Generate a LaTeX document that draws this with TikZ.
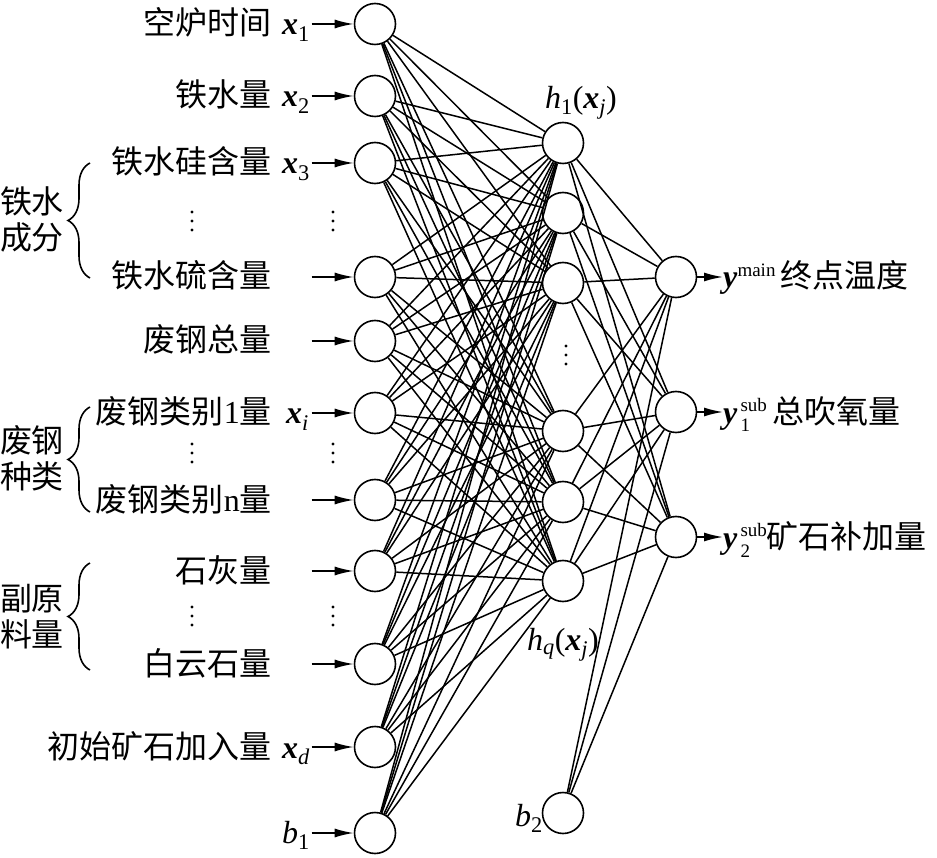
\documentclass[tikz,border=0pt]{standalone}
\usepackage{amsmath}
\usepackage{fontspec}
\setmainfont{Liberation Serif}
\newfontfamily\cjk{Noto Sans CJK SC}
\newcommand{\vx}{\text{\bfseries\itshape x}}
\newcommand{\vy}{\text{\bfseries\itshape y}}
\newcommand{\ti}[1]{\text{\itshape #1}}
\newcommand{\tu}[1]{\text{\upshape #1}}
\newcommand{\smallsz}{\fontsize{19}{19}\selectfont}
\newcommand{\ysub}[1]{\textbf{\textit{y}}\kern3pt\rlap{\raisebox{12pt}{\smallsz sub}}\rlap{\raisebox{-9pt}{\smallsz #1}}\phantom{\smallsz sub}}
\usepackage{tikz}
\usetikzlibrary{arrows.meta,positioning,decorations.pathreplacing}

\begin{document}
\begin{tikzpicture}[x=1pt, y=-1pt, every node/.style={font=\fontsize{32}{36}\selectfont, inner sep=0pt}, neuron/.style={draw,circle,line width=1.6pt,minimum size=41pt}, link/.style={line width=1.5pt}, arr/.style={-{Latex[length=19pt,width=9pt]},line width=1.6pt}, grp/.style={decorate,decoration={brace,amplitude=22pt},line width=1.6pt}]
\useasboundingbox (0,0) rectangle (937,858);
% layers
\foreach \n/\y in {1/24,2/96,3/163,4/277,5/341,6/413,7/500,8/571,9/664,10/747,11/833}
  \node[neuron] (i\n) at (375,\y) {};
\foreach \n/\y in {1/143,2/213,3/283,4/431,5/502,6/581}
  \node[neuron] (h\n) at (563,\y) {};
\foreach \n/\y in {1/277,2/412,3/537}
  \node[neuron] (o\n) at (676,\y) {};
\node[neuron] (b2) at (563,813) {};
% weights
\foreach \a in {1,...,11} \foreach \b in {1,...,6} \draw[link] (i\a) -- (h\b);
\foreach \b in {1,...,6} \foreach \c in {1,2,3} \draw[link] (h\b) -- (o\c);
\foreach \c in {1,2,3} \draw[link] (b2) -- (o\c);
% inputs
\foreach \n in {1,...,11} \draw[arr] ([xshift=-42pt]i\n.west) -- (i\n.west);
\node[anchor=base east] (l1) at (272,35) {\cjk 空炉时间};
\node[anchor=base east] (l2) at (272,107) {\cjk 铁水量};
\node[anchor=base east] (l3) at (272,174) {\cjk 铁水硅含量};
\node[anchor=base east] (l4) at (272,288) {\cjk 铁水硫含量};
\node[anchor=base east] (l5) at (272,352) {\cjk 废钢总量};
\node[anchor=base east] (l6) at (272,424) {{\cjk 废钢类别}1{\cjk 量}};
\node[anchor=base east] (l7) at (272,511) {{\cjk 废钢类别}n{\cjk 量}};
\node[anchor=base east] (l8) at (272,582) {\cjk 石灰量};
\node[anchor=base east] (l9) at (272,675) {\cjk 白云石量};
\node[anchor=base east] (l10) at (272,758) {\cjk 初始矿石加入量};
\node[anchor=base west] (x1) at (282,35) {$\vx_{\tu{1}}$};
\node[anchor=base west] (x2) at (282,107) {$\vx_{\tu{2}}$};
\node[anchor=base west] (x3) at (282,174) {$\vx_{\tu{3}}$};
\node[anchor=base west] (xi) at (286,424) {$\vx_{\ti{i}}$};
\node[anchor=base west] (xd) at (282,758) {$\vx_{\ti{d}}$};
\node[anchor=base east] (bl1) at (310,843) {$\ti{b}_{\tu{1}}$};
% groups
\draw[grp] (90,278) -- (90,163);
\draw[grp] (90,512) -- (90,407);
\draw[grp] (90,670) -- (90,563);
\node[align=center] (g1) at (32,219) {\cjk 铁水\\\cjk 成分};
\node[align=center] (g2) at (32,458) {\cjk 废钢\\\cjk 种类};
\node[align=center] (g3) at (32,617) {\cjk 副原\\\cjk 料量};
\foreach \y in {212,221,230,444,453,462,607,616,625}
  \fill (192,\y) circle (1.7pt) (333,\y) circle (1.7pt);
\foreach \y in {346,355,364} \fill (566,\y) circle (1.7pt);
% hidden labels
\node (hl1) at (581,103) {$\ti{h}_{\tu{1}}\tu{(}\vx_{\ti{j}}\tu{)}$};
\node (hlq) at (563,645) {$\ti{h}_{\ti{q}}\tu{(}\vx_{\ti{j}}\tu{)}$};
\node[anchor=base east] (bl2) at (543,826) {$\ti{b}_{\tu{2}}$};
% outputs
\node[anchor=base west] (y1) at (723,288) {\textbf{\textit{y}}\raisebox{11pt}{\smallsz main}\,{\cjk 终点温度}};
\node[anchor=base west] (y2) at (723,423) {\ysub{1}\,{\cjk 总吹氧量}};
\node[anchor=base west] (y3) at (723,548) {\ysub{2}{\cjk 矿石补加量}};
\foreach \c in {1,2,3} \draw[arr] (o\c.east) -- (o\c.east -| y\c.west);
\end{tikzpicture}
\end{document}
